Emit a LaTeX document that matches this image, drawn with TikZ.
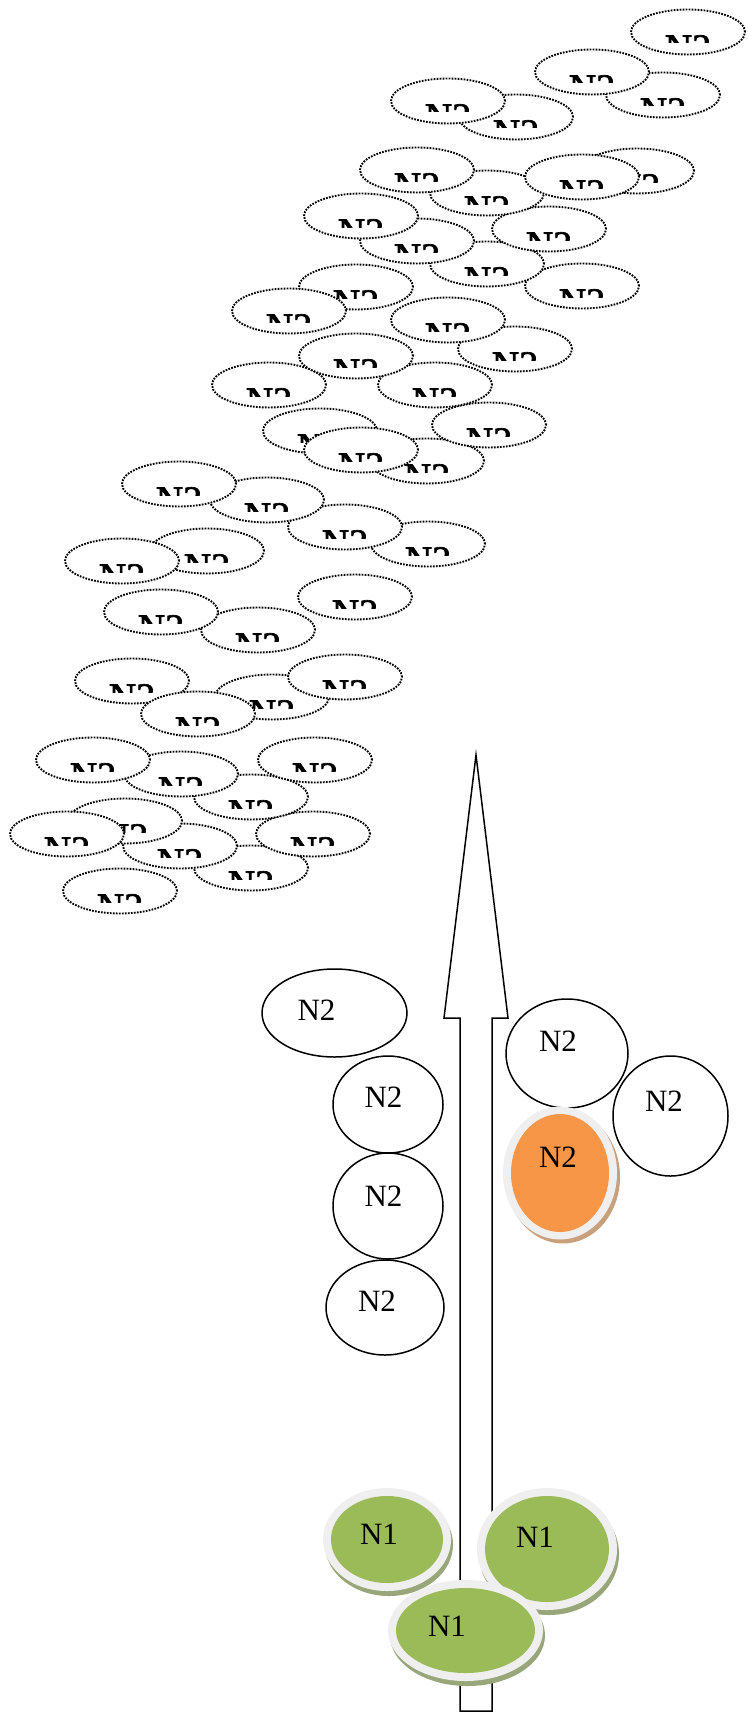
\documentclass[tikz,border=0pt]{standalone}
\usepackage{fontspec}
\setmainfont{Liberation Serif}
\newfontfamily\dotfont[FakeBold=1.8]{Liberation Serif}
\usetikzlibrary{shapes.geometric}

\definecolor{nOrange}{HTML}{F79646}
\definecolor{nGreen}{HTML}{9BBB59}
\definecolor{nRing}{HTML}{EFEFEF}
\definecolor{nGreenShade}{HTML}{98A67A}
\definecolor{nOrangeShade}{HTML}{C9A07C}

\tikzset{
  dotell/.style={ellipse, draw, fill=white, line width=1.9pt,
    dash pattern=on 1.7pt off 1.3pt, minimum width=114pt,
    minimum height=45pt, inner sep=0pt},
  dottxt/.style={font=\dotfont\fontsize{38}{42}\selectfont,
    inner sep=0pt, anchor=north},
  solidell/.style={ellipse, draw, fill=white, line width=1.5pt, inner sep=0pt},
  lbl/.style={font=\fontsize{31}{36}\selectfont, inner sep=0pt},
  plainell/.style={ellipse, inner sep=0pt},
  arrowshape/.style={draw, fill=white, line width=1.5pt, line join=miter}
}

% dotted ellipse with its half-hidden label: name, x, y
\newcommand\dotN[3]{%
  \node[dotell] (#1) at (#2,#3) {};
  \begin{scope}
    \clip (#2-60,#3) rectangle (#2+60,#3+11);
    \node[dottxt] (#1t) at (#2,#3+3) {N2};
  \end{scope}}

% offset of the drop shadow below the rimmed ellipses
\def\rimoff{2,5}
% shaded ellipse with light rim and drop shadow:
% name, x, y, inner w, inner h, outer w, outer h, fill, shade
\newcommand\rimN[9]{%
  \node[plainell, fill=#9, minimum width=#6pt, minimum height=#7pt,
    shift={(\rimoff)}] (#1s) at (#2,#3) {};
  \node[plainell, fill=nRing, minimum width=#6pt, minimum height=#7pt]
    (#1r) at (#2,#3) {};
  \node[plainell, fill=#8, minimum width=#4pt, minimum height=#5pt]
    (#1) at (#2,#3) {};}

\begin{document}
\begin{tikzpicture}[x=1pt,y=-1pt]
\useasboundingbox (0,0) rectangle (747,1718);

% cloud of dotted ellipses
\dotN{d54}{120}{891}
\dotN{d53}{251}{868}
\dotN{d51}{180}{846}
\dotN{d52}{313}{834}
\dotN{d49}{125}{821}
\dotN{d50}{67}{834}
\dotN{d48}{251}{797}
\dotN{d46}{181}{774}
\dotN{d45}{93}{760}
\dotN{d39}{315}{760}
\dotN{d42}{272}{697}
\dotN{d41}{132}{681}
\dotN{d43}{198}{714}
\dotN{d38}{345}{677}
\dotN{d37}{258}{630}
\dotN{d36}{161}{612}
\dotN{d35}{355}{597}
\dotN{d33}{207}{551}
\dotN{d34}{122}{561}
\dotN{d32}{428}{544}
\dotN{d31}{345}{527}
\dotN{d30}{267}{500}
\dotN{d29}{179}{484}
\dotN{d28}{427}{461}
\dotN{d26}{320}{431}
\dotN{d27}{361}{450}
\dotN{d25}{489}{425}
\dotN{d22}{269}{385}
\dotN{d23}{435}{385}
\dotN{d21}{356}{356}
\dotN{d20}{515}{349}
\dotN{d19}{448}{320}
\dotN{d17}{356}{287}
\dotN{d18}{289}{311}
\dotN{d12}{582}{286}
\dotN{d11}{487}{264}
\dotN{d15}{417}{241}
\dotN{d10}{549}{229}
\dotN{d13}{361}{216}
\dotN{d9}{487}{193}
\dotN{d7}{637}{171}
\dotN{d8}{582}{177}
\dotN{d6}{417}{170}
\dotN{d5}{516}{117}
\dotN{d4}{448}{101}
\dotN{d3}{663}{95}
\dotN{d2}{592}{72}
\dotN{d1}{688}{32}

% the upward arrow
\draw[arrowshape] (460,1711) -- (460,1018) -- (444,1018) -- (476,755)
  -- (508,1018) -- (492,1018) -- (492,1711) -- cycle;

% plain N2 ellipses
\node[solidell, minimum width=145pt, minimum height=88pt] (s1) at (334.5,1013) {};
\node[lbl] (s1t) at (316.5,1010) {N2};
\node[solidell, minimum width=110pt, minimum height=97pt] (s2) at (388,1104.5) {};
\node[lbl] (s2t) at (383.5,1097.5) {N2};
\node[solidell, minimum width=110pt, minimum height=106pt] (s3) at (388,1206) {};
\node[lbl] (s3t) at (383.5,1196) {N2};
\node[solidell, minimum width=118pt, minimum height=95pt] (s4) at (385,1307.5) {};
\node[lbl] (s4t) at (377,1301) {N2};
\node[solidell, minimum width=122pt, minimum height=109pt] (s5) at (567,1053.5) {};
\node[lbl] (s5t) at (558,1041) {N2};
\node[solidell, minimum width=115pt, minimum height=120pt] (s6) at (670.5,1116) {};
\node[lbl] (s6t) at (664,1101) {N2};

% highlighted N2
\def\rimoff{3,4}
\rimN{o1}{560}{1173}{98}{118}{114}{133}{nOrange}{nOrangeShade}
\node[lbl] (o1t) at (558,1157) {N2};

% N1 ellipses at the foot of the arrow
\def\rimoff{2,5}
\rimN{g1}{387}{1539.5}{112}{87}{128}{103}{nGreen}{nGreenShade}
\node[lbl] (g1t) at (379,1534) {N1};
\rimN{g2}{547}{1549}{124}{106}{140}{122}{nGreen}{nGreenShade}
\node[lbl] (g2t) at (535,1537) {N1};
\rimN{g3}{465.5}{1630.5}{139}{85}{155}{101}{nGreen}{nGreenShade}
\node[lbl] (g3t) at (447,1626) {N1};
\end{tikzpicture}
\end{document}
